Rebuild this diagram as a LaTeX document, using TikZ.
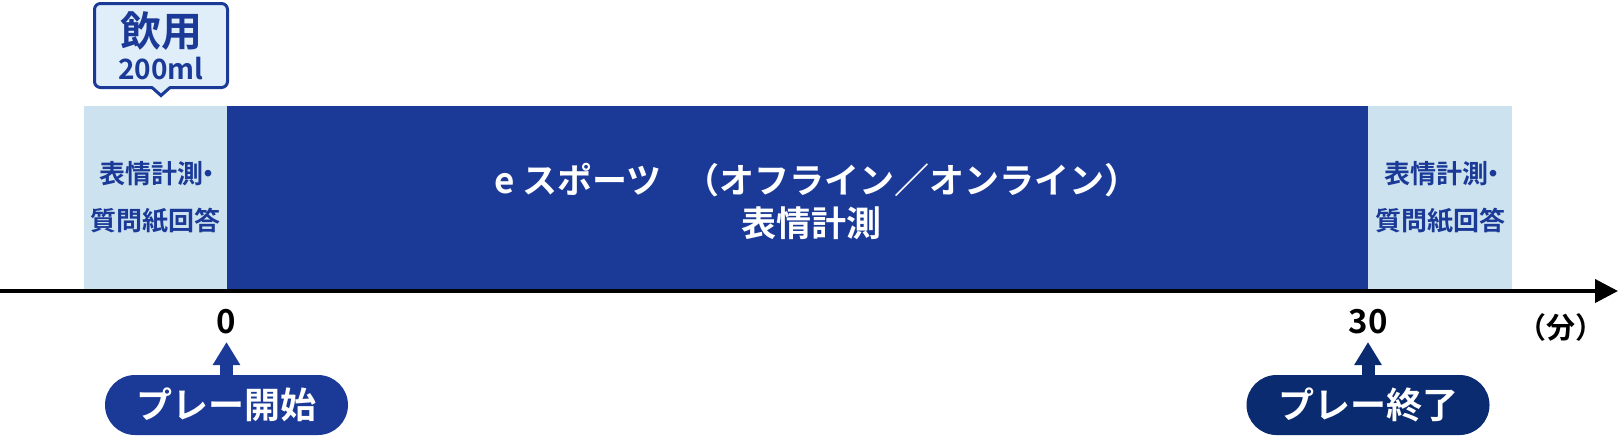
\documentclass[tikz,border=0pt]{standalone}
\usepackage{fontspec}
\setmainfont{Noto Sans CJK JP}[UprightFont={* Bold}]
\usetikzlibrary{positioning,arrows.meta}

\definecolor{playblue}{HTML}{1B3A98}
\definecolor{endnavy}{HTML}{0B2B70}
\definecolor{surveyblue}{HTML}{CCE3EF}
\definecolor{bubblefill}{HTML}{DFEEF8}

\newcommand{\surveytext}{表情計測\kern-0.3em・\kern-0.4em\\質問紙回答}

\begin{document}
\begin{tikzpicture}[x=0.5pt, y=-0.5pt,
        phase/.style={rectangle, inner sep=0pt, outer sep=0pt, minimum height=91.5pt, align=center},
        survey/.style={phase, fill=surveyblue, text=playblue, minimum width=72pt, font=\fontsize{13pt}{23.5pt}\selectfont},
        bubble/.style={draw=playblue, fill=bubblefill, line width=1.5pt, rounded corners=3pt, minimum width=66.5pt, minimum height=42pt, inner sep=0pt, outer sep=0pt, align=center, text=playblue, font=\fontsize{20.5pt}{16.5pt}\selectfont},
        pill/.style={rectangle, rounded corners=15pt, minimum width=121.5pt, minimum height=30pt, inner sep=0pt, text=white, font=\fontsize{18pt}{18pt}\selectfont},
        tick/.style={inner sep=0pt, font=\fontsize{16.5pt}{16.5pt}\selectfont},
        pointer/.style={line width=6.5pt, -{Triangle[length=11.5pt, width=13pt]}}]
        \useasboundingbox (0,0) rectangle (1620,436);

        % Nodes
        \node (pre) at (155.5,197.5) [survey, minimum width=71.5pt] {\surveytext};
        \node (play) at (797.5,197.5) [phase, fill=playblue, minimum width=570.5pt] {};
        \node (playlabel) at (811.5,201.5) [align=center, inner sep=0pt, text=white, font=\fontsize{17.5pt}{21.5pt}\selectfont] {\hspace*{0.3em}e スポーツ\hspace{0.65em}（オフライン／オンライン）\\表情計測};
        \node (post) at (1440,197.5) [survey] {\surveytext};

        % Drinking bubble
        \node (drink) at (161,45.5) [bubble] {飲用\\{\fontsize{14pt}{16.5pt}\selectfont 200ml}};
        \coordinate (drinktip) at (161,95.5);
        \fill[bubblefill] ([xshift=-4.5pt,yshift=1pt]drink.south) -- (drinktip) -- ([xshift=4.5pt,yshift=1pt]drink.south) -- cycle;
        \draw[playblue, line width=1.5pt] ([xshift=-4.5pt]drink.south) -- (drinktip) -- ([xshift=4.5pt]drink.south);

        % Time axis
        \coordinate (origin) at (0,291);
        \coordinate (axisend) at (1618,291);
        \draw[line width=2pt, -{Triangle[length=11.5pt, width=11.5pt]}] (origin) -- (axisend);
        \node (t0) at (226.5,322) [tick] {0};
        \node (t30) at (1368,322) [tick] {30};
        \node (unit) at (1561,327) [tick, font=\fontsize{14.5pt}{14.5pt}\selectfont] {（分）};

        % Lower nodes
        \node (start) at (226.5,405) [pill, fill=playblue] {プレー開始};
        \node (stop) at (1368,405) [pill, fill=endnavy] {プレー終了};
        \coordinate (tipstart) at (226.5,342);
        \coordinate (tipstop) at (1368,342);

        % Edges
        \foreach \n/\c in {start/playblue, stop/endnavy} {
            \draw[pointer, \c] (\n.north) -- (tip\n);
        }

    \end{tikzpicture}
\end{document}
